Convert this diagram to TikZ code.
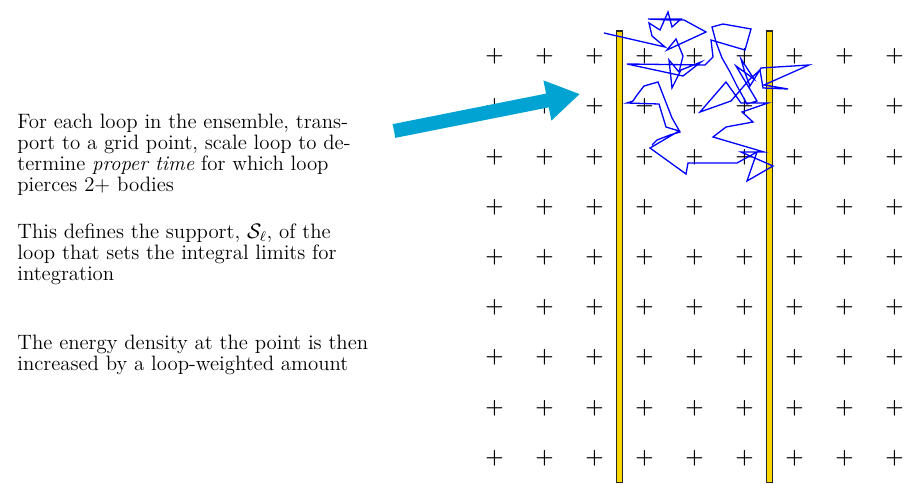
\documentclass[tikz,border=0pt]{standalone}
\usetikzlibrary{arrows.meta}
\definecolor{arrowcyan}{RGB}{0,163,210}
\definecolor{baryellow}{RGB}{250,215,0}
\definecolor{loopblue}{RGB}{0,0,255}
\begin{document}
\begin{tikzpicture}[x=0.5714pt,y=-0.5714pt,
  gridplus/.style={inner sep=0pt, font=\fontsize{12.8}{14}\selectfont\boldmath},
  desc/.style={anchor=north west, inner sep=0pt, align=left, font=\fontsize{11.9}{12}\selectfont},
  body/.style={draw=black!85, fill=baryellow, line width=0.7pt},
  looppath/.style={draw=loopblue, line width=0.75pt, line join=miter},
  bigarrow/.style={draw=arrowcyan, line width=8pt, -{Triangle[length=19pt,width=22pt]}}]
\useasboundingbox (0,0) rectangle (919,484);
% grid of points
\foreach \i in {0,...,8}{
  \foreach \j in {0,...,8}{
    \node[gridplus] (p\i-\j) at ({494.5+50*\i},{56.5+50.2*\j}) {$+$};
  }
}
% bodies
\draw[body] (616.5,31) rectangle (622.5,482.5);
\draw[body] (766.5,31) rectangle (772.5,482.5);
% loop
\draw[looppath] (604,33) -- (665,47) -- (652,36) -- (649,23) -- (660,30) -- (668,12) -- (672,27) -- (681,19) -- (648,19) -- (669,20) -- (684,20) -- (706,32) -- (667,50) -- (676,39) -- (683,56) -- (679,72) -- (669,60) -- (672,88) -- (681,70) -- (701,62) -- (683,76) -- (627,64) -- (705,65) -- (713,57) -- (711,40) -- (745,50) -- (751,29) -- (723,24) -- (712,27) -- (716,42) -- (722,58) -- (730,72) -- (737,86) -- (747,104) -- (757,101) -- (736,66) -- (754,79) -- (741,59) -- (745,73) -- (750,86) -- (761,68) -- (809,65) -- (764,85) -- (788,89) -- (763,88) -- (760,70) -- (749,80) -- (731,101) -- (700,112) -- (726,82) -- (741,103) -- (768,103) -- (742,112) -- (753,122) -- (726,127) -- (713,137) -- (764,152) -- (741,152) -- (773,166) -- (747,181) -- (757,152) -- (737,163) -- (702,163) -- (688,163) -- (686,174) -- (650,148) -- (679,131) -- (666,127) -- (659,104) -- (627,103) -- (633,101) -- (637,95) -- (644,86) -- (658,82) -- (672,118) -- (680,132) -- (670,135) -- (657,140) -- (652,145);
% arrow
\coordinate (atail) at (394,131);
\coordinate (atip) at (580,94);
\draw[bigarrow] (atail) -- (atip);
% text
\node[desc] (t1) at (17,113.6) {For each loop in the ensemble, trans-\\port to a grid point, scale loop to de-\\termine \emph{proper time} for which loop\\pierces 2+ bodies};
\node[desc] (t2) at (17,223.6) {This defines the support, $\mathcal{S}_\ell$, of the\\loop that sets the integral limits for\\integration};
\node[desc] (t3) at (17,334.6) {The energy density at the point is then\\increased by a loop-weighted amount};
\end{tikzpicture}
\end{document}
